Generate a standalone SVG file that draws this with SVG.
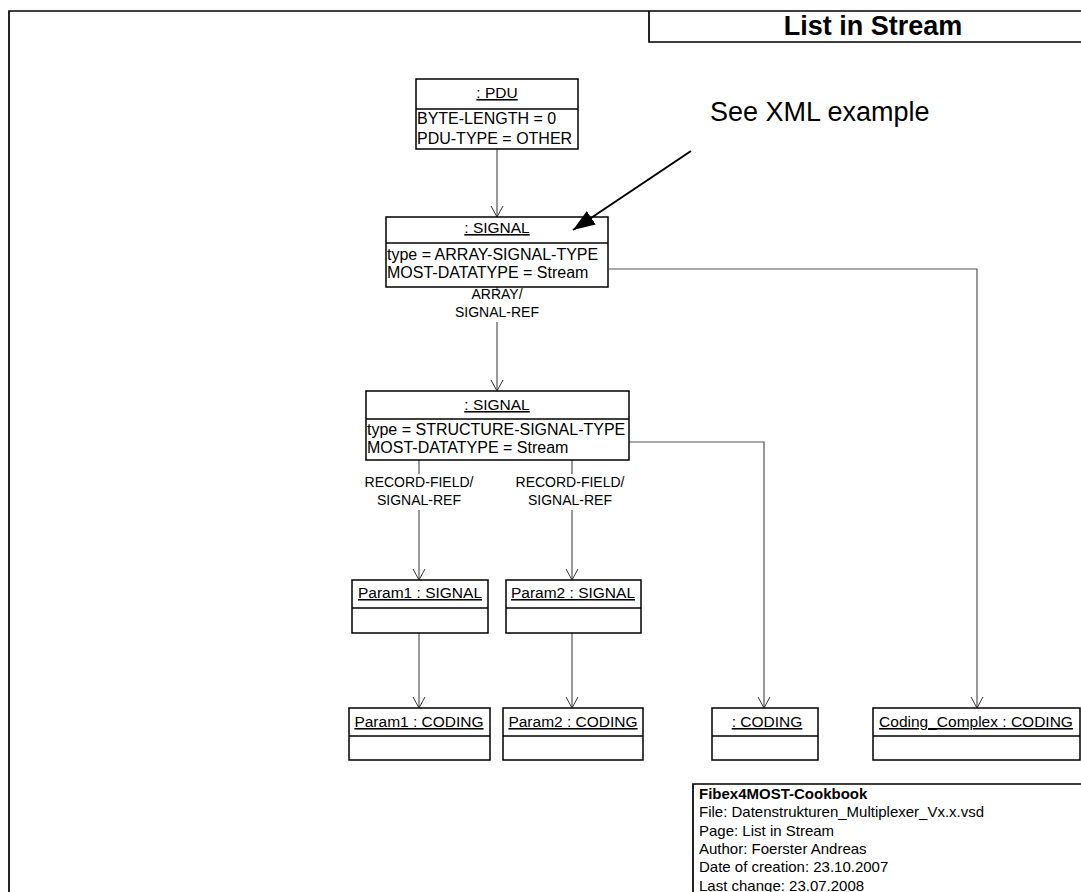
<svg xmlns="http://www.w3.org/2000/svg" width="1081" height="892" viewBox="0 0 1081 892">
  <defs>
    <marker id="open" viewBox="0 0 12 14" refX="11" refY="7" markerWidth="12" markerHeight="14" markerUnits="userSpaceOnUse" orient="auto">
      <path d="M0,1 L11,7 L0,13" fill="none" stroke="#333" stroke-width="1"/>
    </marker>
    <marker id="solid" viewBox="0 0 22 16" refX="22" refY="8" markerWidth="22" markerHeight="16" markerUnits="userSpaceOnUse" orient="auto">
      <path d="M0,0 L22,8 L0,16 Z" fill="#000"/>
    </marker>
  </defs>
  <style>
    text { font-family: "Liberation Sans", Arial, sans-serif; fill: #000; }
    .box { fill: #fff; stroke: #000; stroke-width: 1.5; }
    .div { stroke: #000; stroke-width: 1.3; }
    .name { font-size: 15.5px; text-anchor: middle; text-decoration: underline; }
    .attr { font-size: 16px; }
    .lbl { font-size: 14px; text-anchor: middle; }
    .conn { fill: none; stroke: #555; stroke-width: 1.2; }
    .frame { fill: none; stroke: #000; stroke-width: 1.7; }
    .info { font-size: 15px; }
  </style>

  <rect width="1081" height="892" fill="#fff"/>

  <!-- page frame and title block -->
  <g id="frame">
    <path class="frame" d="M9,900 V11 H1090"/>
    <path class="frame" d="M649,11 V42 H1090"/>
    <text x="873" y="35" font-size="27" font-weight="bold" text-anchor="middle">List in Stream</text>
  </g>

  <!-- connectors -->
  <g id="connectors">
    <line class="conn" x1="497" y1="149" x2="497" y2="217" marker-end="url(#open)"/>
    <line class="conn" x1="497" y1="287" x2="497" y2="291"/>
    <line class="conn" x1="497" y1="322" x2="497" y2="391" marker-end="url(#open)"/>
    <text class="lbl" x="497" y="299">ARRAY/</text>
    <text class="lbl" x="497" y="317">SIGNAL-REF</text>
    <polyline class="conn" points="609,269 977,269 977,708" marker-end="url(#open)"/>
    <polyline class="conn" points="629,442 764,442 764,708" marker-end="url(#open)"/>
    <line class="conn" x1="419" y1="460" x2="419" y2="474"/>
    <line class="conn" x1="419" y1="510" x2="419" y2="580" marker-end="url(#open)"/>
    <text class="lbl" x="419" y="487">RECORD-FIELD/</text>
    <text class="lbl" x="419" y="505">SIGNAL-REF</text>
    <line class="conn" x1="572" y1="460" x2="572" y2="474"/>
    <line class="conn" x1="572" y1="510" x2="572" y2="580" marker-end="url(#open)"/>
    <text class="lbl" x="570" y="487">RECORD-FIELD/</text>
    <text class="lbl" x="570" y="505">SIGNAL-REF</text>
    <line class="conn" x1="419" y1="633" x2="419" y2="708" marker-end="url(#open)"/>
    <line class="conn" x1="572" y1="633" x2="572" y2="708" marker-end="url(#open)"/>
  </g>

  <g id="pdu">
    <rect class="box" x="416" y="79" width="162" height="70"/>
    <line class="div" x1="416" y1="109" x2="578" y2="109"/>
    <text class="name" x="497" y="98">: PDU</text>
    <text class="attr" x="417" y="124">BYTE-LENGTH = 0</text>
    <text class="attr" x="417" y="144">PDU-TYPE = OTHER</text>
  </g>

  <g id="signal-array">
    <rect class="box" x="386" y="217" width="222" height="70"/>
    <line class="div" x1="386" y1="243" x2="608" y2="243"/>
    <text class="name" x="497" y="233">: SIGNAL</text>
    <text class="attr" x="387" y="260">type = ARRAY-SIGNAL-TYPE</text>
    <text class="attr" x="387" y="278">MOST-DATATYPE = Stream</text>
  </g>

  <g id="signal-structure">
    <rect class="box" x="366" y="391" width="263" height="69"/>
    <line class="div" x1="366" y1="419" x2="629" y2="419"/>
    <text class="name" x="497" y="410">: SIGNAL</text>
    <text class="attr" x="367" y="435">type = STRUCTURE-SIGNAL-TYPE</text>
    <text class="attr" x="367" y="453">MOST-DATATYPE = Stream</text>
  </g>

  <g id="param1-signal">
    <rect class="box" x="352" y="580" width="136" height="53"/>
    <line class="div" x1="352" y1="608" x2="488" y2="608"/>
    <text class="name" x="420" y="598">Param1 : SIGNAL</text>
  </g>

  <g id="param2-signal">
    <rect class="box" x="506" y="580" width="135" height="53"/>
    <line class="div" x1="506" y1="608" x2="641" y2="608"/>
    <text class="name" x="573" y="598">Param2 : SIGNAL</text>
  </g>

  <g id="param1-coding">
    <rect class="box" x="349" y="708" width="141" height="52"/>
    <line class="div" x1="349" y1="736" x2="490" y2="736"/>
    <text class="name" x="419" y="727">Param1 : CODING</text>
  </g>

  <g id="param2-coding">
    <rect class="box" x="503" y="708" width="140" height="52"/>
    <line class="div" x1="503" y1="736" x2="643" y2="736"/>
    <text class="name" x="573" y="727">Param2 : CODING</text>
  </g>

  <g id="coding">
    <rect class="box" x="712" y="708" width="106" height="52"/>
    <line class="div" x1="712" y1="736" x2="818" y2="736"/>
    <text class="name" x="767" y="727">: CODING</text>
  </g>

  <g id="coding-complex">
    <rect class="box" x="873" y="708" width="207" height="52"/>
    <line class="div" x1="873" y1="736" x2="1080" y2="736"/>
    <text class="name" x="976" y="727">Coding_Complex : CODING</text>
  </g>

  <!-- note pointing at the array signal -->
  <g id="note">
    <text x="710" y="121" font-size="27">See XML example</text>
    <line x1="691" y1="151" x2="573" y2="230" stroke="#000" stroke-width="2" marker-end="url(#solid)"/>
  </g>

  <!-- document info block -->
  <g id="info">
    <path class="frame" d="M693,900 V784 H1090"/>
    <text class="info" x="699" y="799" font-weight="bold">Fibex4MOST-Cookbook</text>
    <text class="info" x="699" y="817">File: Datenstrukturen_Multiplexer_Vx.x.vsd</text>
    <text class="info" x="699" y="836">Page: List in Stream</text>
    <text class="info" x="699" y="854">Author: Foerster Andreas</text>
    <text class="info" x="699" y="872">Date of creation: 23.10.2007</text>
    <text class="info" x="699" y="891">Last change: 23.07.2008</text>
  </g>
</svg>
